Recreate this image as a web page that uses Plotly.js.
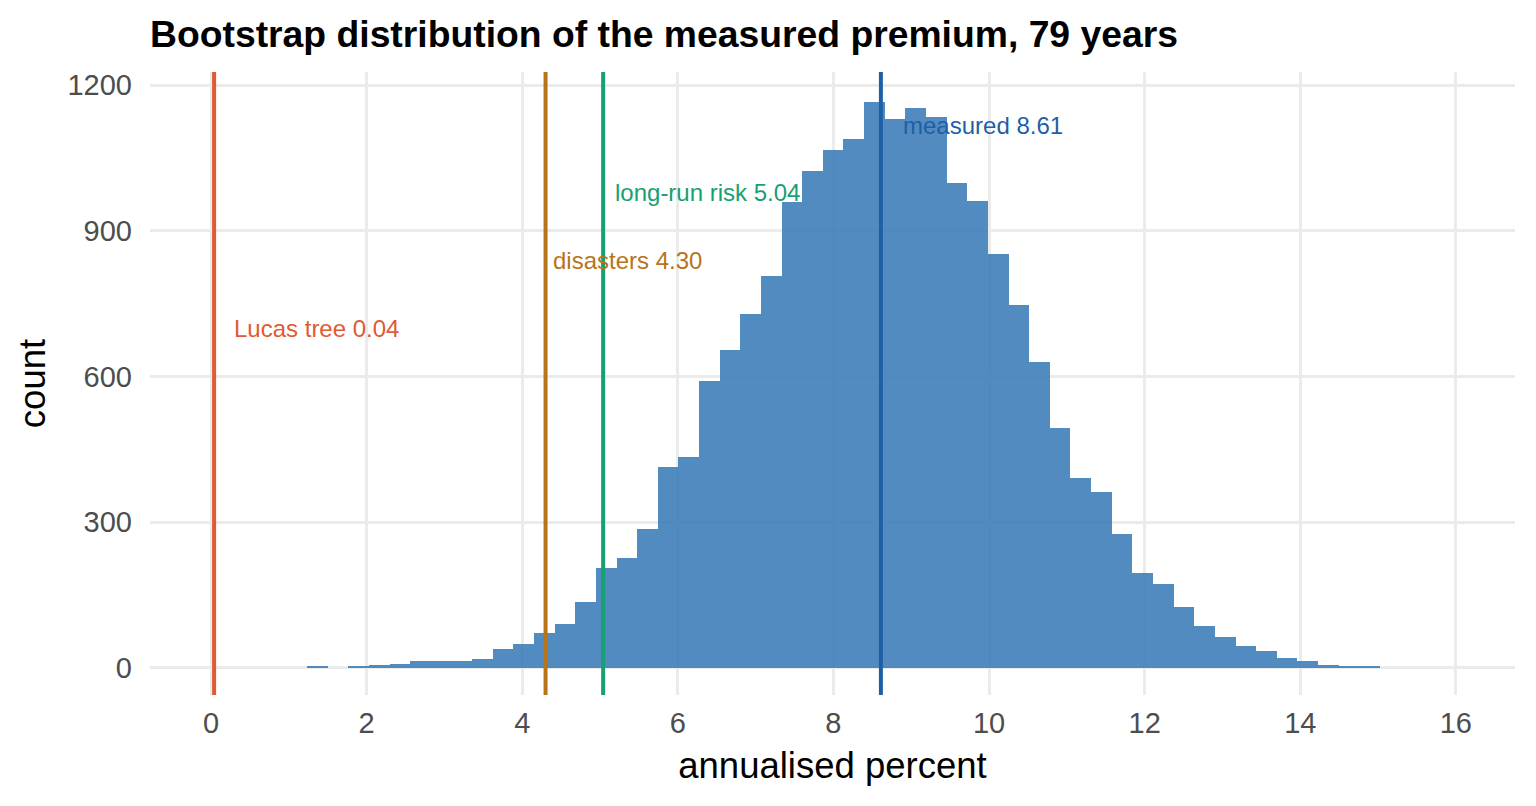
<!DOCTYPE html>
<html>
<head>
<meta charset="utf-8">
<script src="https://cdn.plot.ly/plotly-3.0.1.min.js"></script>
<style>
  html, body { margin:0; padding:0; background:#fff; }
  #chart { width:1536px; height:806px; }
</style>
</head>
<body>
<div id="chart"></div>
<script>
// ── histogram of bootstrap premia (bins) ──
const binStart = 1.234;
const binWidth = 0.2652;
const counts = [
  2, 0, 2, 5, 7, 13, 15, 13, 19, 38,
  50, 71, 91, 136, 206, 227, 285, 414, 434, 591,
  655, 729, 807, 959, 1024, 1066, 1089, 1165, 1130, 1153,
  1134, 998, 961, 853, 747, 630, 494, 391, 362, 276,
  196, 173, 126, 86, 64, 45, 34, 21, 14, 6,
  2, 2
];

// model benchmarks
const refNames  = ['Lucas tree', 'disasters', 'long-run risk', 'measured'];
const refValues = [0.04, 4.30, 5.04, 8.61];
const refColors = ['#E05A35', '#B87418', '#17A072', '#1F5FA8'];
const labelX    = [0.30, 4.40, 5.19, 8.89];
const labelY    = [698, 838, 978, 1117];

const FONT = 'Liberation Sans, Arial, Helvetica, sans-serif';
const yRange = [-56, 1227];

const centers = counts.map((_, i) => binStart + binWidth * (i + 0.5));

const traces = [{
  type: 'bar',
  x: centers,
  y: counts,
  width: binWidth,
  marker: { color: '#3F7EB8', opacity: 0.9, line: { width: 0 } },
  hoverinfo: 'x+y',
  showlegend: false
}];

// vertical reference lines
refValues.forEach((v, i) => {
  traces.push({
    type: 'scatter', mode: 'lines',
    x: [v, v], y: yRange,
    line: { color: refColors[i], width: 4 },
    hoverinfo: 'skip', showlegend: false
  });
});

const annotations = refValues.map((v, i) => ({
  x: labelX[i], y: labelY[i], xref: 'x', yref: 'y',
  text: `${refNames[i]} ${v.toFixed(2)}`,
  showarrow: false, xanchor: 'left', yanchor: 'middle',
  xshift: -2,
  font: { family: FONT, size: 24, color: refColors[i] }
}));

const layout = {
  width: 1536, height: 806,
  paper_bgcolor: '#fff', plot_bgcolor: '#fff',
  margin: { l: 150, r: 21, t: 72, b: 111 },
  font: { family: FONT, color: '#4D4D4D' },
  title: {
    text: '<b>Bootstrap distribution of the measured premium, 79 years</b>',
    x: 0, xanchor: 'left', xref: 'paper',
    y: 1 - 34 / 806, yanchor: 'middle',
    font: { family: FONT, size: 37.3, color: '#000' }
  },
  bargap: 0,
  xaxis: {
    range: [-0.784, 16.76],
    tickvals: [0, 2, 4, 6, 8, 10, 12, 14, 16],
    showgrid: true, gridcolor: '#EBEBEB', gridwidth: 2.5,
    zeroline: false, showline: false, ticks: '',
    tickfont: { size: 29, color: '#4D4D4D' },
    ticklabelstandoff: 8,
    title: { text: 'annualised percent', font: { size: 36.5, color: '#000' }, standoff: 14 }
  },
  yaxis: {
    range: yRange,
    tickvals: [0, 300, 600, 900, 1200],
    showgrid: true, gridcolor: '#EBEBEB', gridwidth: 2.5,
    zeroline: false, showline: false, ticks: '',
    tickfont: { size: 29, color: '#4D4D4D' },
    ticklabelstandoff: 17,
    title: { text: 'count', font: { size: 36.5, color: '#000' }, standoff: 10 }
  },
  annotations: annotations
};

Plotly.newPlot('chart', traces, layout, { displayModeBar: false, responsive: false });
</script>
</body>
</html>
